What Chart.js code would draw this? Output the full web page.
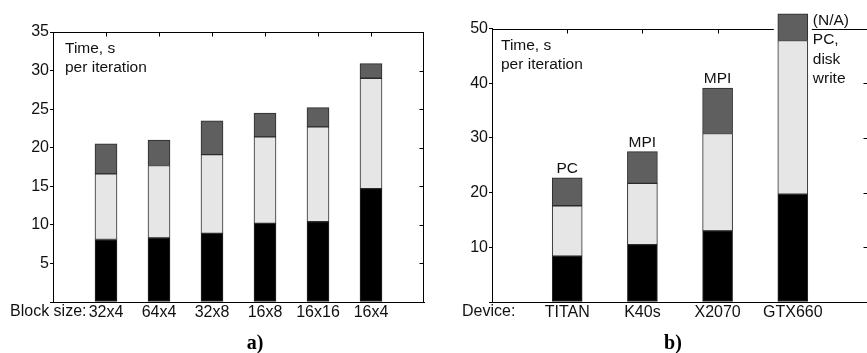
<!DOCTYPE html>
<html>
<head>
<meta charset="utf-8">
<script src="https://cdn.jsdelivr.net/npm/chart.js@4.4.1/dist/chart.umd.min.js"></script>
<style>
  html, body { margin: 0; padding: 0; background: #fff; }
  body { width: 867px; height: 353px; overflow: hidden; position: relative; }
  canvas { position: absolute; top: 0; }
  #ca { left: 0; }
  #cb { left: 440px; }
</style>
</head>
<body>
<canvas id="ca" width="440" height="353"></canvas>
<canvas id="cb" width="440" height="353"></canvas>
<script>
// ---------- Panel a) data ----------
const blockSizes = ['32x4', '64x4', '32x8', '16x8', '16x16', '16x4'];
const blackA = [8.1, 8.3, 8.9, 10.2, 10.4, 14.7];
const lightA = [8.5, 9.4, 10.2, 11.2, 12.3, 14.3];
const darkA  = [3.9, 3.3, 4.4, 3.1, 2.5, 1.9];
const yTicksA = [5, 10, 15, 20, 25, 30, 35];

// ---------- Panel b) data ----------
const devices = ['TITAN', 'K40s', 'X2070', 'GTX660'];
const blackB = [8.4, 10.5, 13.0, 19.7];
const lightB = [9.2, 11.2, 17.8, 28.1];
const darkB  = [5.1, 5.8, 8.3, 4.9];
const barLabelsB = ['PC', 'MPI', 'MPI', ''];
const yTicksB = [10, 20, 30, 40, 50];

const FONT = '"Liberation Sans", Arial, Helvetica, sans-serif';
const COL_BLACK = '#000000', COL_LIGHT = '#e6e6e6', COL_DARK = '#5f5f5f', COL_EDGE = '#2b2b2b';

const pad = arr => [null, ...arr, null];

const framePlugin = {
  id: 'frame',
  beforeDatasetsDraw(chart, args, o) {
    const { ctx, chartArea: a, scales: { x, y } } = chart;
    ctx.save();
    ctx.strokeStyle = '#000';
    ctx.lineWidth = 1;
    ctx.beginPath();
    const ty = Math.round(a.top) + 0.5, rx = Math.round(a.right) - 0.5;
    ctx.moveTo(a.left, ty); ctx.lineTo(rx + 0.5, ty);
    ctx.moveTo(rx, ty); ctx.lineTo(rx, a.bottom);
    o.ticks.forEach(v => {
      if (v > y.min && v < y.max) {
        const py = Math.round(y.getPixelForValue(v)) + 0.5;
        ctx.moveTo(rx, py); ctx.lineTo(rx - 4, py);
      }
    });
    o.cats.forEach((c, i) => {
      const px = Math.round(x.getPixelForValue(i + 1)) + 0.5;
      ctx.moveTo(px, ty); ctx.lineTo(px, ty + 4);
    });
    ctx.stroke();
    // open gap in frame where a bar runs off the scale
    const meta = chart.getDatasetMeta(chart.data.datasets.length - 1);
    meta.data.forEach(el => {
      if (el && el.y < a.top) {
        ctx.fillStyle = '#fff';
        ctx.fillRect(el.x - el.width / 2 - 4, a.top - 3, el.width + 8, 7);
      }
    });
    ctx.restore();
  }
};

const notesPlugin = {
  id: 'notes',
  afterDatasetsDraw(chart, args, o) {
    const { ctx, chartArea: a } = chart;
    ctx.save();
    ctx.fillStyle = '#111';
    ctx.textAlign = 'left';
    ctx.textBaseline = 'alphabetic';
    ctx.font = '15.5px ' + FONT;
    ctx.fillText('Time, s', a.left + o.titleDx, a.top + 21);
    ctx.fillText('per iteration', a.left + o.titleDx, a.top + 40);
    // axis caption on the tick-label row
    ctx.font = '16px ' + FONT;
    ctx.textBaseline = 'middle';
    ctx.fillText(o.caption, o.captionX, a.bottom + 10);
    // labels above bars
    if (o.barLabels) {
      const meta = chart.getDatasetMeta(chart.data.datasets.length - 1);
      ctx.textAlign = 'center';
      ctx.textBaseline = 'alphabetic';
      ctx.font = '15.5px ' + FONT;
      o.barLabels.forEach((t, i) => {
        const el = meta.data[i + 1];
        if (t && el) ctx.fillText(t, el.x, el.y - 5);
      });
      // annotation for the off-scale bar
      const last = meta.data[o.barLabels.length];
      if (last) {
        const lx = last.x + last.width / 2 + 5;
        ctx.textAlign = 'left';
        ctx.fillText('(N/A)', lx, a.top - 3.5);
        ctx.fillText('PC,', lx, a.top + 15.5);
        ctx.fillText('disk', lx, a.top + 35);
        ctx.fillText('write', lx, a.top + 54.5);
      }
    }
    // panel letter
    ctx.font = 'bold 20px "Liberation Serif", "Times New Roman", serif';
    ctx.textAlign = 'center';
    ctx.textBaseline = 'middle';
    ctx.fillStyle = '#000';
    ctx.fillText(o.letter, o.letterX, 344);
    ctx.restore();
  }
};

function makeChart(id, cats, black, light, dark, yMax, yStep, yTicks, opts) {
  const ds = (label, data, color) => ({
    label, data: pad(data), backgroundColor: color, borderColor: COL_EDGE,
    borderWidth: 1, borderSkipped: false, barThickness: opts.barW, clip: false
  });
  return new Chart(document.getElementById(id), {
    type: 'bar',
    data: {
      labels: ['', ...cats, ''],
      datasets: [ds('compute', black, COL_BLACK), ds('exchange', light, COL_LIGHT), ds('other', dark, COL_DARK)]
    },
    plugins: [framePlugin, notesPlugin],
    options: {
      responsive: false,
      devicePixelRatio: 1,
      animation: false,
      layout: { padding: { top: opts.padTop, right: opts.padRight, left: 0, bottom: 0 } },
      plugins: {
        legend: { display: false },
        tooltip: { enabled: false },
        frame: { ticks: yTicks, cats },
        notes: opts.notes
      },
      scales: {
        x: {
          type: 'category', stacked: true, offset: false,
          grid: { display: false, drawTicks: false, tickLength: 0 },
          border: { display: true, color: '#000', width: 1 },
          ticks: { color: '#111', font: { family: FONT, size: 16 }, padding: 1, maxRotation: 0, autoSkip: false },
          afterFit: s => { s.height = 51; }
        },
        y: {
          stacked: true, min: 0, max: yMax,
          grid: { display: true, drawOnChartArea: false, drawTicks: true, tickLength: 3, color: '#000' },
          border: { display: true, color: '#000', width: 1 },
          ticks: {
            stepSize: yStep, color: '#111', font: { family: FONT, size: 16 }, padding: 1,
            callback: v => (yTicks.includes(v) ? String(v) : '')
          },
          afterFit: s => { s.width = opts.yW; }
        }
      }
    }
  });
}

makeChart('ca', blockSizes, blackA, lightA, darkA, 35, 5, yTicksA, {
  barW: 22, padTop: 32, padRight: 16, yW: 53,
  notes: { titleDx: 12, caption: 'Block size:', captionX: 10, letter: 'a)', letterX: 255 }
});
makeChart('cb', devices, blackB, lightB, darkB, 50, 10, yTicksB, {
  barW: 30, padTop: 28.5, padRight: 12, yW: 52,
  notes: { titleDx: 9, caption: 'Device:', captionX: 22, letter: 'b)', letterX: 233, barLabels: barLabelsB }
});
</script>
</body>
</html>
